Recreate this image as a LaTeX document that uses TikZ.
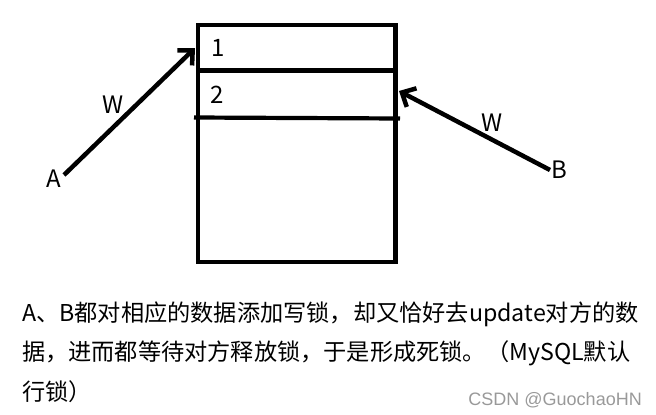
\documentclass[tikz,border=0pt]{standalone}
\usepackage{fontspec}
\setmainfont{Noto Sans CJK SC}
\newfontfamily\wmfont{Liberation Sans}
\usetikzlibrary{arrows.meta}

\begin{document}
\begin{tikzpicture}[x=1pt, y=-1pt, >={Straight Barb[length=11pt,width=21pt]},
  lbl/.style={inner sep=0pt, anchor=base west, font=\fontsize{24}{24}\selectfont},
  box/.style={line width=4.2pt},
  arr/.style={->, line width=4.5pt}]
  \useasboundingbox (0,0) rectangle (656,415);

  % the table with its two rows
  \coordinate (TL) at (198,25);
  \coordinate (BR) at (395.5,262);
  \draw[box] (TL) rectangle (BR);
  \draw[box] (198,70.5) -- (395.5,70.5);
  \draw[box] (194,117.5) -- (400,118.5);
  \node[lbl] (r1) at (211,56) {1};
  \node[lbl] (r2) at (210,103) {2};

  % transaction A
  \node[lbl] (A) at (46,187) {A};
  \coordinate (Atail) at (64,175);
  \coordinate (Ahead) at (195,48);
  \draw[arr] (Atail) -- (Ahead);
  \node[lbl] (WA) at (102,113) {W};

  % transaction B
  \node[lbl] (B) at (551,178) {B};
  \coordinate (Btail) at (550,170);
  \coordinate (Bhead) at (399,91);
  \draw[arr] (Btail) -- (Bhead);
  \node[lbl] (WB) at (481,131) {W};

  % caption, anchored at its last line
  \node[anchor=base west, inner sep=0pt, align=left,
        font=\fontsize{23.2}{39.5}\selectfont] (cap) at (22,400)
    {A、B都对相应的数据添加写锁，却又恰好去update对方的数\\
     据，进而都等待对方释放锁，于是形成死锁。（MySQL默认\\
     行锁）};
  \node[anchor=base east, inner sep=0pt, text=black!40,
        font=\wmfont\fontsize{18}{18}\selectfont] (wm) at (642,405)
    {CSDN @GuochaoHN};
\end{tikzpicture}
\end{document}
